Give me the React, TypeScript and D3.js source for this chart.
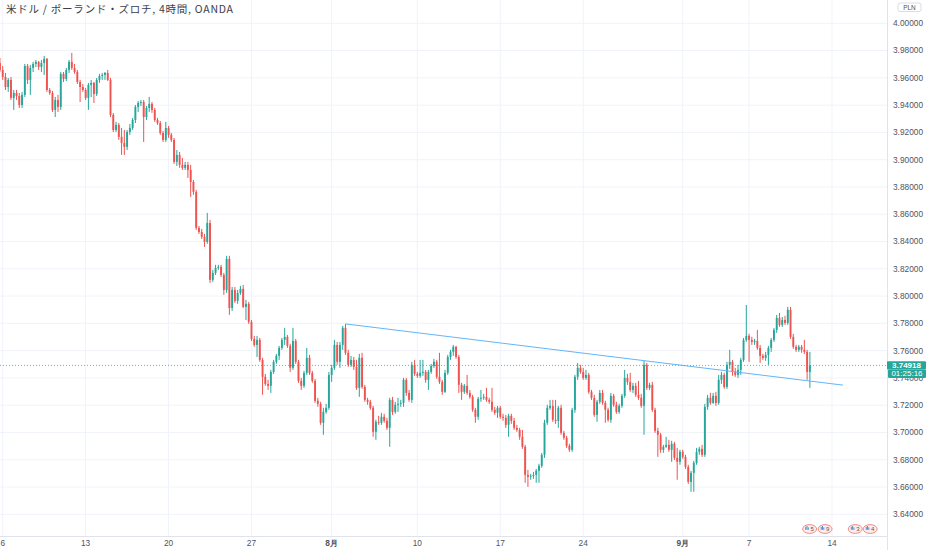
import React from "react";
import * as d3 from "d3";

// ---- data (USD/PLN, 4h, OANDA) ----
const firstOpen = 3.9709;
const closes = [
  3.9658, 3.9607, 3.9533, 3.9585, 3.9453, 3.9489, 3.9467, 3.9401, 3.9475, 3.9687,
  3.9585, 3.9673, 3.9702, 3.9717, 3.9680, 3.9709, 3.9739, 3.9511, 3.9489, 3.9365,
  3.9438, 3.9387, 3.9629, 3.9592, 3.9658, 3.9717, 3.9673, 3.9643, 3.9570, 3.9533,
  3.9511, 3.9453, 3.9548, 3.9563, 3.9482, 3.9585, 3.9614, 3.9621, 3.9636, 3.9585,
  3.9328, 3.9218, 3.9255, 3.9167, 3.9123, 3.9094, 3.9203, 3.9233, 3.9291, 3.9387,
  3.9416, 3.9423, 3.9313, 3.9379, 3.9409, 3.9365, 3.9291, 3.9269, 3.9196, 3.9145,
  3.9233, 3.9182, 3.9145, 3.8984, 3.9035, 3.8962, 3.8940, 3.8962, 3.8925, 3.8837,
  3.8764, 3.8500, 3.8470, 3.8434, 3.8397, 3.8536, 3.8119, 3.8170, 3.8207, 3.8214,
  3.8155, 3.8045, 3.8273, 3.7913, 3.8045, 3.7965, 3.8023, 3.8053, 3.7921, 3.7943,
  3.7811, 3.7686, 3.7642, 3.7679, 3.7532, 3.7408, 3.7356, 3.7342, 3.7444, 3.7518,
  3.7562, 3.7620, 3.7679, 3.7701, 3.7635, 3.7474, 3.7671, 3.7518, 3.7378, 3.7342,
  3.7437, 3.7547, 3.7437, 3.7378, 3.7232, 3.7210, 3.7071, 3.7151, 3.7181, 3.7422,
  3.7474, 3.7642, 3.7518, 3.7642, 3.7767, 3.7584, 3.7496, 3.7532, 3.7481, 3.7327,
  3.7547, 3.7334, 3.7239, 3.7225, 3.7181, 3.7005, 3.7078, 3.7071, 3.7115, 3.7085,
  3.7034, 3.7239, 3.7151, 3.7203, 3.7210, 3.7217, 3.7386, 3.7290, 3.7239, 3.7496,
  3.7430, 3.7415, 3.7437, 3.7444, 3.7386, 3.7444, 3.7488, 3.7518, 3.7408, 3.7371,
  3.7298, 3.7437, 3.7554, 3.7591, 3.7628, 3.7554, 3.7349, 3.7298, 3.7342, 3.7290,
  3.7261, 3.7166, 3.7115, 3.7247, 3.7254, 3.7261, 3.7239, 3.7225, 3.7166, 3.7144,
  3.7181, 3.7115, 3.7107, 3.7056, 3.7122, 3.7085, 3.7034, 3.7019, 3.6968, 3.6895,
  3.6689, 3.6675, 3.6682, 3.6689, 3.6719, 3.6755, 3.6836, 3.7071, 3.7181, 3.7195,
  3.7093, 3.7085, 3.7181, 3.6997, 3.6961, 3.6902, 3.6873, 3.7166, 3.7408, 3.7474,
  3.7444, 3.7400, 3.7422, 3.7298, 3.7254, 3.7129, 3.7225, 3.7290, 3.7217, 3.7166,
  3.7093, 3.7268, 3.7203, 3.7151, 3.7195, 3.7268, 3.7400, 3.7371, 3.7312, 3.7342,
  3.7276, 3.7254, 3.7195, 3.7496, 3.7327, 3.7349, 3.7166, 3.7012, 3.6983, 3.6873,
  3.6895, 3.6909, 3.6873, 3.6917, 3.6814, 3.6785, 3.6858, 3.6821, 3.6748, 3.6638,
  3.6704, 3.6777, 3.6858, 3.6880, 3.6836, 3.7188, 3.7254, 3.7217, 3.7268, 3.7217,
  3.7386, 3.7422, 3.7334, 3.7496, 3.7518, 3.7444, 3.7422, 3.7459, 3.7532, 3.7679,
  3.7708, 3.7679, 3.7664, 3.7671, 3.7620, 3.7562, 3.7547, 3.7569, 3.7620, 3.7679,
  3.7752, 3.7840, 3.7789, 3.7825, 3.7803, 3.7899, 3.7701, 3.7628, 3.7606, 3.7628,
  3.7606, 3.7591, 3.7444, 3.74918,
];
const highs = [
  3.9746, 3.9687, 3.9636, 3.9599, 3.9607, 3.9511, 3.9511, 3.9489, 3.9497, 3.9702,
  3.9702, 3.9695, 3.9717, 3.9731, 3.9724, 3.9731, 3.9761, 3.9746, 3.9526, 3.9504,
  3.9460, 3.9475, 3.9643, 3.9643, 3.9673, 3.9731, 3.9783, 3.9702, 3.9658, 3.9585,
  3.9555, 3.9526, 3.9563, 3.9585, 3.9570, 3.9599, 3.9629, 3.9636, 3.9643, 3.9658,
  3.9599, 3.9343, 3.9277, 3.9269, 3.9233, 3.9218, 3.9218, 3.9262, 3.9306, 3.9401,
  3.9431, 3.9438, 3.9438, 3.9394, 3.9460, 3.9423, 3.9379, 3.9306, 3.9284, 3.9211,
  3.9277, 3.9247, 3.9196, 3.9160, 3.9071, 3.9057, 3.9013, 3.8984, 3.8984, 3.8962,
  3.8852, 3.8778, 3.8514, 3.8492, 3.8456, 3.8610, 3.8558, 3.8192, 3.8229, 3.8229,
  3.8229, 3.8170, 3.8295, 3.8295, 3.8067, 3.8067, 3.8045, 3.8075, 3.8082, 3.7972,
  3.7957, 3.7825, 3.7708, 3.7708, 3.7693, 3.7547, 3.7430, 3.7386, 3.7459, 3.7532,
  3.7576, 3.7635, 3.7693, 3.7767, 3.7715, 3.7650, 3.7767, 3.7686, 3.7532, 3.7400,
  3.7452, 3.7620, 3.7569, 3.7452, 3.7393, 3.7254, 3.7225, 3.7181, 3.7210, 3.7444,
  3.7496, 3.7679, 3.7664, 3.7664, 3.7781, 3.7796, 3.7606, 3.7562, 3.7554, 3.7532,
  3.7576, 3.7584, 3.7349, 3.7254, 3.7239, 3.7195, 3.7093, 3.7122, 3.7144, 3.7137,
  3.7107, 3.7254, 3.7261, 3.7225, 3.7254, 3.7239, 3.7400, 3.7400, 3.7312, 3.7518,
  3.7532, 3.7444, 3.7532, 3.7532, 3.7459, 3.7459, 3.7503, 3.7540, 3.7532, 3.7584,
  3.7386, 3.7459, 3.7569, 3.7606, 3.7642, 3.7635, 3.7569, 3.7364, 3.7356, 3.7422,
  3.7312, 3.7276, 3.7181, 3.7261, 3.7312, 3.7283, 3.7327, 3.7254, 3.7327, 3.7188,
  3.7195, 3.7195, 3.7137, 3.7129, 3.7137, 3.7137, 3.7107, 3.7056, 3.7034, 3.7019,
  3.6909, 3.6726, 3.6697, 3.6711, 3.6733, 3.6770, 3.6850, 3.7093, 3.7203, 3.7239,
  3.7239, 3.7239, 3.7195, 3.7203, 3.7012, 3.6975, 3.6917, 3.7181, 3.7422, 3.7510,
  3.7496, 3.7474, 3.7459, 3.7437, 3.7312, 3.7276, 3.7239, 3.7312, 3.7312, 3.7232,
  3.7181, 3.7290, 3.7283, 3.7225, 3.7210, 3.7283, 3.7459, 3.7430, 3.7437, 3.7364,
  3.7364, 3.7378, 3.7283, 3.7525, 3.7510, 3.7364, 3.7371, 3.7181, 3.7034, 3.6997,
  3.6909, 3.6968, 3.6946, 3.6939, 3.6931, 3.6887, 3.6873, 3.6873, 3.6836, 3.6763,
  3.6719, 3.6792, 3.6887, 3.6895, 3.6909, 3.7210, 3.7276, 3.7290, 3.7290, 3.7298,
  3.7422, 3.7444, 3.7437, 3.7518, 3.7606, 3.7532, 3.7474, 3.7496, 3.7547, 3.7693,
  3.7935, 3.7723, 3.7701, 3.7686, 3.7752, 3.7642, 3.7576, 3.7591, 3.7635, 3.7693,
  3.7767, 3.7862, 3.7877, 3.7847, 3.7855, 3.7921, 3.7921, 3.7723, 3.7642, 3.7642,
  3.7642, 3.7679, 3.7606, 3.7591,
];
const lows = [
  3.9643, 3.9585, 3.9511, 3.9497, 3.9438, 3.9365, 3.9438, 3.9379, 3.9379, 3.9460,
  3.9555, 3.9475, 3.9643, 3.9680, 3.9658, 3.9643, 3.9621, 3.9497, 3.9475, 3.9350,
  3.9313, 3.9350, 3.9365, 3.9570, 3.9577, 3.9636, 3.9658, 3.9629, 3.9555, 3.9423,
  3.9497, 3.9438, 3.9365, 3.9460, 3.9416, 3.9467, 3.9563, 3.9585, 3.9585, 3.9577,
  3.9313, 3.9203, 3.9203, 3.9145, 3.9035, 3.9035, 3.9071, 3.9182, 3.9218, 3.9269,
  3.9350, 3.9394, 3.9130, 3.9291, 3.9350, 3.9343, 3.9277, 3.9255, 3.9182, 3.9130,
  3.9130, 3.9160, 3.9130, 3.8969, 3.8954, 3.8940, 3.8925, 3.8925, 3.8866, 3.8727,
  3.8742, 3.8485, 3.8456, 3.8419, 3.8361, 3.8383, 3.8097, 3.8104, 3.8155, 3.8192,
  3.8141, 3.8009, 3.8023, 3.7862, 3.7891, 3.7950, 3.7943, 3.8009, 3.7913, 3.7825,
  3.7796, 3.7671, 3.7628, 3.7554, 3.7518, 3.7276, 3.7342, 3.7312, 3.7290, 3.7430,
  3.7503, 3.7532, 3.7606, 3.7642, 3.7620, 3.7444, 3.7459, 3.7503, 3.7364, 3.7312,
  3.7327, 3.7422, 3.7422, 3.7364, 3.7217, 3.7188, 3.7056, 3.6983, 3.7137, 3.7166,
  3.7371, 3.7459, 3.7496, 3.7474, 3.7606, 3.7569, 3.7481, 3.7481, 3.7459, 3.7312,
  3.7261, 3.7320, 3.7225, 3.7203, 3.7166, 3.6968, 3.6946, 3.7056, 3.7056, 3.7071,
  3.7019, 3.6895, 3.7129, 3.7137, 3.7151, 3.7188, 3.7188, 3.7268, 3.7225, 3.7217,
  3.7415, 3.7400, 3.7400, 3.7415, 3.7364, 3.7312, 3.7430, 3.7474, 3.7393, 3.7356,
  3.7276, 3.7290, 3.7422, 3.7532, 3.7562, 3.7540, 3.7290, 3.7239, 3.7283, 3.7276,
  3.7247, 3.7151, 3.7071, 3.7093, 3.7225, 3.7239, 3.7225, 3.7210, 3.7151, 3.7129,
  3.7107, 3.7100, 3.7085, 3.7034, 3.6968, 3.7063, 3.7019, 3.7005, 3.6946, 3.6880,
  3.6631, 3.6601, 3.6653, 3.6660, 3.6631, 3.6631, 3.6741, 3.6814, 3.7056, 3.7166,
  3.7078, 3.7063, 3.7034, 3.6983, 3.6946, 3.6887, 3.6858, 3.6858, 3.7144, 3.7386,
  3.7430, 3.7386, 3.7386, 3.7283, 3.7239, 3.7115, 3.7078, 3.7210, 3.7203, 3.7071,
  3.7078, 3.7071, 3.7188, 3.7137, 3.7137, 3.7181, 3.7254, 3.7349, 3.7298, 3.7290,
  3.7261, 3.7239, 3.7181, 3.6983, 3.7312, 3.7312, 3.7151, 3.6997, 3.6821, 3.6851,
  3.6851, 3.6887, 3.6858, 3.6785, 3.6799, 3.6653, 3.6763, 3.6807, 3.6733, 3.6623,
  3.6565, 3.6565, 3.6763, 3.6836, 3.6821, 3.6821, 3.7166, 3.7203, 3.7210, 3.7195,
  3.7203, 3.7356, 3.7320, 3.7320, 3.7466, 3.7415, 3.7408, 3.7400, 3.7422, 3.7518,
  3.7664, 3.7518, 3.7642, 3.7642, 3.7606, 3.7510, 3.7532, 3.7525, 3.7496, 3.7591,
  3.7664, 3.7730, 3.7774, 3.7774, 3.7789, 3.7789, 3.7686, 3.7613, 3.7591, 3.7591,
  3.7584, 3.7576, 3.7386, 3.7327,
];

const priceTicks = [3.64, 3.66, 3.68, 3.70, 3.72, 3.74, 3.76, 3.78, 3.80, 3.82, 3.84, 3.86, 3.88, 3.90, 3.92, 3.94, 3.96, 3.98, 4.00];
const timeTickIndex = [1, 31, 61, 91, 120, 151, 181, 211, 247, 271, 301];
const timeTickLabels = ["6", "13", "20", "27", "8月", "10", "17", "24", "9月", "7", "14"];
const timeTickBold = [false, false, false, false, true, false, false, false, true, false, false];

const trendIndex = [125, 305];
const trendPrice = [3.7796, 3.7347];

const lastPrice = 3.74918;
const countdown = "01:25:16";
const title = "米ドル / ポーランド・ズロチ, 4時間, OANDA";
const currency = "PLN";

const badgeIndex = [292.9, 298.5, 309.4, 314.8];
const badgeCounts = ["5", "9", "3", "4"];

// ---- layout ----
const W = 932;
const H = 550;
const plotRight = 887;
const plotBottom = 536;
const UP = "#26a69a";
const DOWN = "#ef5350";
const GRID = "#f0f3fa";
const BORDER = "#e0e3eb";
const AXIS_TEXT = "#50535e";
const FONT = "'Liberation Sans', Arial, sans-serif";

export default function App() {
  const x = d3.scaleLinear().domain([1, 301]).range([2.7, 832]);
  const y = d3.scaleLinear().domain([3.64, 4.0]).range([514.3, 23.3]);

  const candles = closes.map((c, i) => {
    const o = i === 0 ? firstOpen : closes[i - 1];
    const h = Math.max(highs[i], o, c);
    const l = Math.min(lows[i], o, c);
    return { i, o, h, l, c };
  });

  const bodyW = 1.9;
  const lastY = y(lastPrice);
  const boxTop = lastY - 4.2;
  const boxBottom = lastY + 12.6;

  return (
    <svg
      width={W}
      height={H}
      style={{ position: "absolute", left: 0, top: 0, background: "#ffffff" }}
      fontFamily={FONT}
    >
      <defs>
        <clipPath id="plot">
          <rect x={0} y={0} width={plotRight} height={plotBottom} />
        </clipPath>
        <clipPath id="axisfree">
          <rect x={plotRight + 1} y={0} width={W - plotRight} height={boxTop} />
          <rect x={plotRight + 1} y={boxBottom} width={W - plotRight} height={H - boxBottom} />
        </clipPath>
      </defs>
      <rect x={0} y={0} width={W} height={H} fill="#ffffff" />

      {/* grid */}
      <g clipPath="url(#plot)">
        {priceTicks.map((p) => (
          <line key={"hg" + p} x1={0} x2={plotRight} y1={y(p)} y2={y(p)} stroke={GRID} strokeWidth={1} />
        ))}
        {timeTickIndex.map((t) => (
          <line key={"vg" + t} x1={x(t)} x2={x(t)} y1={0} y2={plotBottom} stroke={GRID} strokeWidth={1} />
        ))}
      </g>

      {/* candles */}
      <g clipPath="url(#plot)">
        {candles.map((d) => {
          const col = d.c >= d.o ? UP : DOWN;
          const cx = x(d.i);
          const top = y(Math.max(d.o, d.c));
          const bot = y(Math.min(d.o, d.c));
          return (
            <g key={d.i}>
              <line x1={cx} x2={cx} y1={y(d.h)} y2={y(d.l)} stroke={col} strokeWidth={1} />
              <rect x={cx - bodyW / 2} y={top} width={bodyW} height={Math.max(0.8, bot - top)} fill={col} />
            </g>
          );
        })}
      </g>

      {/* trend line */}
      <line
        x1={x(trendIndex[0])}
        y1={y(trendPrice[0])}
        x2={x(trendIndex[1])}
        y2={y(trendPrice[1])}
        stroke="#64b5f6"
        strokeWidth={1}
      />

      {/* last price dotted line */}
      <line
        x1={0}
        x2={plotRight}
        y1={lastY}
        y2={lastY}
        stroke={UP}
        strokeOpacity={0.75}
        strokeWidth={1}
        strokeDasharray="1,2"
      />

      {/* axis borders */}
      <line x1={plotRight + 0.5} x2={plotRight + 0.5} y1={0} y2={H} stroke={BORDER} strokeWidth={1} />
      <line x1={0} x2={plotRight} y1={plotBottom + 0.5} y2={plotBottom + 0.5} stroke={BORDER} strokeWidth={1} />

      {/* price axis labels (the price label box hides the part behind it) */}
      <g clipPath="url(#axisfree)">
        {priceTicks.map((p) => (
          <text key={"pl" + p} x={893} y={y(p)} dy="0.35em" fontSize={8.3} fill={AXIS_TEXT}>
            {p.toFixed(5)}
          </text>
        ))}
      </g>

      {/* time axis labels */}
      {timeTickIndex.map((t, k) => (
        <text
          key={"tl" + t}
          x={x(t)}
          y={543.5}
          dy="0.35em"
          textAnchor="middle"
          fontSize={8.3}
          fontWeight={timeTickBold[k] ? "bold" : "normal"}
          fill={AXIS_TEXT}
        >
          {timeTickLabels[k]}
        </text>
      ))}

      {/* last price label */}
      <rect x={887} y={boxTop} width={39} height={8.4} fill={UP} rx={1} />
      <text x={906.5} y={lastY} dy="0.35em" textAnchor="middle" fontSize={8} fontWeight="bold" fill="#ffffff">
        {lastPrice.toFixed(5)}
      </text>
      <rect x={888} y={lastY + 4} width={38} height={8.6} fill={UP} rx={1} />
      <text x={907} y={lastY + 8.3} dy="0.35em" textAnchor="middle" fontSize={8} fill="#ffffff">
        {countdown}
      </text>

      {/* currency box */}
      <rect x={898} y={3} width={23} height={8.5} rx={2} fill="#ffffff" stroke="#d1d4dc" strokeWidth={0.8} />
      <text x={909.5} y={7.3} dy="0.35em" textAnchor="middle" fontSize={6.5} fill={AXIS_TEXT}>
        {currency}
      </text>

      {/* title */}
      <text x={6} y={12.5} fontSize={10.5} fill="#3b3e48" textLength={227} lengthAdjust="spacing"
        fontFamily="'Noto Sans CJK JP', 'Noto Sans', sans-serif">
        {title}
      </text>

      {/* event badges */}
      {badgeIndex.map((b, k) => {
        const cx = x(b);
        const cy = 529;
        return (
          <g key={"bd" + k}>
            <ellipse cx={cx} cy={cy} rx={7} ry={4.4} fill="#fdecec" stroke="#f28b82" strokeWidth={1} />
            <rect x={cx - 4.4} y={cy - 2.2} width={1} height={3} fill="#4a90d9" />
            <rect x={cx - 3.1} y={cy - 3} width={1} height={3.8} fill="#4a90d9" />
            <rect x={cx - 1.8} y={cy - 1.6} width={1} height={2.4} fill="#4a90d9" />
            <text x={cx + 2.6} y={cy} dy="0.35em" textAnchor="middle" fontSize={6} fill="#555">
              {badgeCounts[k]}
            </text>
          </g>
        );
      })}
    </svg>
  );
}
